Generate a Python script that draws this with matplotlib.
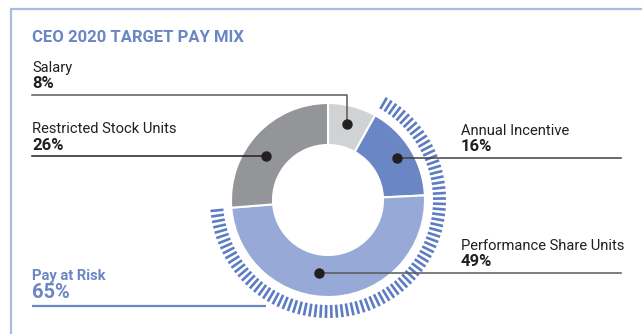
import numpy as np
import matplotlib.pyplot as plt
from matplotlib.collections import LineCollection

plt.rcParams['font.family'] = ['Roboto', 'DejaVu Sans']

title = 'CEO 2020 TARGET PAY MIX'
labels = ['Salary', 'Annual Incentive', 'Performance Share Units', 'Restricted Stock Units']
shares = [8, 16, 49, 26]
at_risk = [False, True, True, False]
risk_label = 'Pay at Risk'
risk_share = 65

colors = ['#d1d2d4', '#6b86c4', '#97a9d6', '#939598']
blue = '#6b86c4'
tick_blue = '#5d7cc2'
ink = '#231f20'

# layout in pixels (y grows downward)
W, H = 642, 334
cx, cy = 328, 200
r_out, r_in = 97, 55

# where each leader dot sits: clockwise angle from top, radius
dot_angle = [14, 58.4, 186.8, 305.2]
dot_rad = [78, 80.7, 73.2, 75.8]
label_x = [32, 461, 461, 32]
line_end = [None, 621, 621, None]
salary_line_y = 95
line_colors = ['#58595b', '#414042', '#58595b', ink]


def polar(angle, r):
    a = np.radians(angle)
    return cx + r * np.sin(a), cy - r * np.cos(a)


fig = plt.figure(figsize=(W / 100, H / 100), dpi=100)
ax = fig.add_axes([0, 0, 1, 1])

ax.pie(shares, colors=colors, startangle=-90, counterclock=True,
       center=(cx, cy), radius=r_out,
       wedgeprops=dict(width=r_out - r_in, edgecolor='white', linewidth=1.5))

ax.set_xlim(0, W)
ax.set_ylim(H, 0)
ax.set_aspect('equal')
ax.axis('off')

# dashed ring over the pay-at-risk slices
edges = np.concatenate([[0], np.cumsum(shares)]) / sum(shares) * 360
first = at_risk.index(True)
last = len(at_risk) - 1 - at_risk[::-1].index(True)
a0, a1 = edges[first], edges[last + 1]
phis = np.linspace(a0 + 0.8, a1 - 0.8, 88)
segs = [[polar(p, 105), polar(p, 118)] for p in phis]
ax.add_collection(LineCollection(segs, colors=tick_blue, linewidths=1.9, capstyle='butt'))

# frame lines
ax.plot([10, W], [9, 9], color='#a9bbe3', lw=1.6, solid_capstyle='butt')
ax.plot([10.5, 10.5], [9, H], color='#a9bbe3', lw=1.6, solid_capstyle='butt')

ax.text(32, 42, title, color=blue, fontsize=12, fontweight='bold', va='baseline')

for i, name in enumerate(labels):
    dx, dy = polar(dot_angle[i], dot_rad[i])
    ax.plot(dx, dy, 'o', color=ink, ms=6.5, zorder=5)
    lc = line_colors[i]
    if i == 0:
        ly = salary_line_y
        ax.plot([label_x[i], dx, dx], [ly, ly, dy], color=lc, lw=1.1, zorder=4)
    elif line_end[i] is None:
        ly = dy
        ax.plot([label_x[i], dx], [ly, ly], color=lc, lw=1.1, zorder=4)
    else:
        ly = dy
        ax.plot([dx, line_end[i]], [ly, ly], color=lc, lw=1.1, zorder=4)
    ax.text(label_x[i], ly - 6.5, f'{shares[i]}%', color=ink, fontsize=12,
            fontweight='bold', va='baseline')
    ax.text(label_x[i], ly - 23, name, color=ink, fontsize=10.6, va='baseline')

ax.plot([32, 265.7], [306, 306], color=blue, lw=1.6, solid_capstyle='butt')
ax.text(32, 298, f'{risk_share}%', color=blue, fontsize=14.5, fontweight='bold', va='baseline')
ax.text(32, 280, risk_label, color=blue, fontsize=10.6, fontweight='bold', va='baseline')

fig.savefig('out.png', dpi=100)
